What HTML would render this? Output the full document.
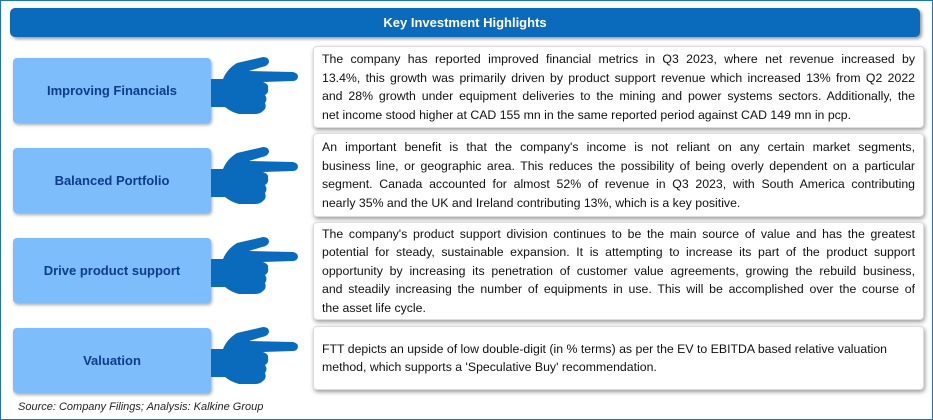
<!DOCTYPE html>
<html><head><meta charset="utf-8"><style>
body{margin:0;width:933px;height:420px;background:#fff;position:relative;overflow:hidden;font-family:"Liberation Sans",sans-serif}
.frame{position:absolute;left:0;top:0;width:931px;height:418px;border:1px solid #1e73be}
.hdr{position:absolute;left:10px;top:8px;width:910px;height:29px;background:#0a6bbd;border-radius:5px;box-shadow:2px 2px 3px #999;color:#fff;font-weight:bold;font-size:13px;text-align:center;line-height:29px}
.lb{position:absolute;left:13px;width:198px;height:65px;background:#7dbdfc;border-radius:4px;box-shadow:1px 2px 3px #aaa;color:#0e3c8c;font-weight:bold;font-size:13px;display:flex;align-items:center;justify-content:center}
.tb{position:absolute;left:313px;width:593px;background:#fff;border-radius:4px;box-shadow:1px 2px 4px #999;border:1px solid #ddd;padding:0 8px;font-size:12.3px;color:#111;display:flex;flex-direction:column;justify-content:center}
.tb div{text-align:justify;text-align-last:justify;line-height:18.5px;white-space:nowrap;overflow:hidden}
.tb div.l{text-align-last:left}
.hand{position:absolute;left:205px;width:95px;height:70px}
.src{position:absolute;left:18px;top:401px;font-size:11px;font-style:italic;color:#222}
</style></head><body>
<div class="frame"></div>
<div class="hdr">Key Investment Highlights</div>

<div class="lb" style="top:58px">Improving Financials</div>
<div class="lb" style="top:148px">Balanced Portfolio</div>
<div class="lb" style="top:238px">Drive product support</div>
<div class="lb" style="top:328px">Valuation</div>

<svg class="hand" style="top:55px" viewBox="0 0 95 70"><use href="#h"/></svg>
<svg class="hand" style="top:145px" viewBox="0 0 95 70"><use href="#h"/></svg>
<svg class="hand" style="top:235px" viewBox="0 0 95 70"><use href="#h"/></svg>
<svg class="hand" style="top:325px" viewBox="0 0 95 70"><use href="#h"/></svg>
<svg width="0" height="0" style="position:absolute"><defs><g id="h" fill="#0a6bbd">
<path d="M6 24 H18 Q22 14 32 8 L58 2 Q64 2 64 7 Q63 11 57 12 L44 16 L88 17 Q93 18 93 22 Q92 26 88 26 L58 27 Q64 29 63 33 Q64 38 60 40 Q63 44 60 48 Q62 53 58 56 Q55 59 50 59 L34 59 Q26 57 20 52 H6 Z"/>
</g></defs></svg>

<div class="tb" style="top:46px;height:80px">
<div>The company has reported improved financial metrics in Q3 2023, where net revenue increased by</div>
<div>13.4%, this growth was primarily driven by product support revenue which increased 13% from Q2 2022</div>
<div>and 28% growth under equipment deliveries to the mining and power systems sectors. Additionally, the</div>
<div class="l">net income stood higher at CAD 155 mn in the same reported period against CAD 149 mn in pcp.</div>
</div>
<div class="tb" style="top:133px;height:82px">
<div>An important benefit is that the company's income is not reliant on any certain market segments,</div>
<div>business line, or geographic area. This reduces the possibility of being overly dependent on a particular</div>
<div>segment. Canada accounted for almost 52% of revenue in Q3 2023, with South America contributing</div>
<div class="l">nearly 35% and the UK and Ireland contributing 13%, which is a key positive.</div>
</div>
<div class="tb" style="top:222px;height:96px">
<div>The company's product support division continues to be the main source of value and has the greatest</div>
<div>potential for steady, sustainable expansion. It is attempting to increase its part of the product support</div>
<div>opportunity by increasing its penetration of customer value agreements, growing the rebuild business,</div>
<div>and steadily increasing the number of equipments in use. This will be accomplished over the course of</div>
<div class="l">the asset life cycle.</div>
</div>
<div class="tb" style="top:326px;height:62px">
<div class="l">FTT depicts an upside of low double-digit (in % terms) as per the EV to EBITDA based relative valuation</div>
<div class="l">method, which supports a 'Speculative Buy' recommendation.</div>
</div>
<div class="src">Source: Company Filings; Analysis: Kalkine Group</div>
</body></html>
